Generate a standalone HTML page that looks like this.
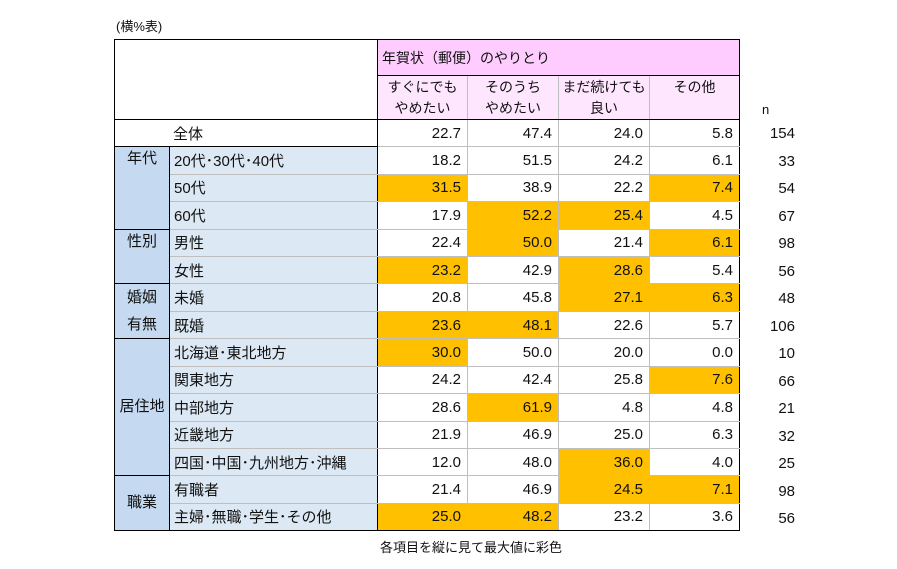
<!DOCTYPE html>
<html><head><meta charset="utf-8"><style>
body{margin:0;background:#fff;width:897px;height:569px;position:relative;font-family:"Liberation Sans","Noto Sans CJK JP",sans-serif;color:#111;font-size:15px}
.t{position:absolute;left:114px;top:39px;border-collapse:collapse;table-layout:fixed}
td{padding:0;border:1.5px solid #bfbfbf;white-space:nowrap;overflow:hidden}
.num{text-align:right;padding-right:6px}
.lab{background:#dce9f5;padding-left:4px;border-left:1.5px solid #000;border-right:1.5px solid #000}
.grp{background:#c5d9f0;text-align:center;border:1.5px solid #000;line-height:24px}
.o{background:#ffc000}
.bt td{border-top:1.5px solid #000}
tr.r td{height:26.4px}
.h1{background:#ffccff;padding-left:4px;border:1.5px solid #000}
.h2{background:#ffe6ff;text-align:center;vertical-align:top;line-height:21px;padding-top:1px;font-size:14px}
.last{border-right:1.5px solid #000}
.n{position:absolute;left:740px;width:55px;text-align:right;font-size:15px}
</style></head><body>
<div style="position:absolute;left:116px;top:16px;font-size:13px">(横%表)</div>
<table class="t">
<colgroup><col style="width:55px"><col style="width:208px"><col style="width:90px"><col style="width:91px"><col style="width:91px"><col style="width:90px"></colgroup>
<tr><td colspan="2" rowspan="2" style="border:1.5px solid #000;background:#fff"></td><td colspan="4" class="h1" style="height:35px;font-size:14px">年賀状（郵便）のやりとり</td></tr>
<tr><td class="h2" style="height:39px;border-bottom:1.5px solid #000">すぐにでも<br>やめたい</td><td class="h2" style="border-bottom:1.5px solid #000">そのうち<br>やめたい</td><td class="h2" style="border-bottom:1.5px solid #000">まだ続けても<br>良い</td><td class="h2 last" style="border-bottom:1.5px solid #000">その他</td></tr>
<tr class="r"><td colspan="2" style="border:1.5px solid #000;padding-left:58px">全体</td><td class="num" style="border-left:1.5px solid #000">22.7</td><td class="num">47.4</td><td class="num">24.0</td><td class="num last">5.8</td></tr>
<tr class="r bt"><td class="grp" rowspan="3" style="vertical-align:top">年代</td><td class="lab">20代･30代･40代</td><td class="num">18.2</td><td class="num">51.5</td><td class="num">24.2</td><td class="num last">6.1</td></tr>
<tr class="r"><td class="lab">50代</td><td class="num o">31.5</td><td class="num">38.9</td><td class="num">22.2</td><td class="num o last">7.4</td></tr>
<tr class="r"><td class="lab">60代</td><td class="num">17.9</td><td class="num o">52.2</td><td class="num o">25.4</td><td class="num last">4.5</td></tr>
<tr class="r bt"><td class="grp" rowspan="2" style="vertical-align:top">性別</td><td class="lab">男性</td><td class="num">22.4</td><td class="num o">50.0</td><td class="num">21.4</td><td class="num o last">6.1</td></tr>
<tr class="r"><td class="lab">女性</td><td class="num o">23.2</td><td class="num">42.9</td><td class="num o">28.6</td><td class="num last">5.4</td></tr>
<tr class="r bt"><td class="grp" rowspan="2" style="line-height:27px">婚姻<br>有無</td><td class="lab">未婚</td><td class="num">20.8</td><td class="num">45.8</td><td class="num o">27.1</td><td class="num o last">6.3</td></tr>
<tr class="r"><td class="lab">既婚</td><td class="num o">23.6</td><td class="num o">48.1</td><td class="num">22.6</td><td class="num last">5.7</td></tr>
<tr class="r bt"><td class="grp" rowspan="5">居住地</td><td class="lab">北海道･東北地方</td><td class="num o">30.0</td><td class="num">50.0</td><td class="num">20.0</td><td class="num last">0.0</td></tr>
<tr class="r"><td class="lab">関東地方</td><td class="num">24.2</td><td class="num">42.4</td><td class="num">25.8</td><td class="num o last">7.6</td></tr>
<tr class="r"><td class="lab">中部地方</td><td class="num">28.6</td><td class="num o">61.9</td><td class="num">4.8</td><td class="num last">4.8</td></tr>
<tr class="r"><td class="lab">近畿地方</td><td class="num">21.9</td><td class="num">46.9</td><td class="num">25.0</td><td class="num last">6.3</td></tr>
<tr class="r"><td class="lab">四国･中国･九州地方･沖縄</td><td class="num">12.0</td><td class="num">48.0</td><td class="num o">36.0</td><td class="num last">4.0</td></tr>
<tr class="r bt"><td class="grp" rowspan="2">職業</td><td class="lab">有職者</td><td class="num">21.4</td><td class="num">46.9</td><td class="num o">24.5</td><td class="num o last">7.1</td></tr>
<tr class="r" style="border-bottom:1.5px solid #000"><td class="lab" style="border-bottom:1.5px solid #000">主婦･無職･学生･その他</td><td class="num o" style="border-bottom:1.5px solid #000">25.0</td><td class="num o" style="border-bottom:1.5px solid #000">48.2</td><td class="num" style="border-bottom:1.5px solid #000">23.2</td><td class="num last" style="border-bottom:1.5px solid #000">3.6</td></tr>
</table>
<div class="n" style="top:102px;left:762px;width:10px;text-align:left;font-size:13px">n</div>
<div class="n" style="top:125px">154</div>
<div class="n" style="top:153px">33</div>
<div class="n" style="top:180px">54</div>
<div class="n" style="top:208px">67</div>
<div class="n" style="top:235px">98</div>
<div class="n" style="top:263px">56</div>
<div class="n" style="top:290px">48</div>
<div class="n" style="top:318px">106</div>
<div class="n" style="top:345px">10</div>
<div class="n" style="top:373px">66</div>
<div class="n" style="top:400px">21</div>
<div class="n" style="top:428px">32</div>
<div class="n" style="top:455px">25</div>
<div class="n" style="top:483px">98</div>
<div class="n" style="top:510px">56</div>
<div style="position:absolute;left:380px;top:537px;font-size:13px">各項目を縦に見て最大値に彩色</div>
</body></html>
